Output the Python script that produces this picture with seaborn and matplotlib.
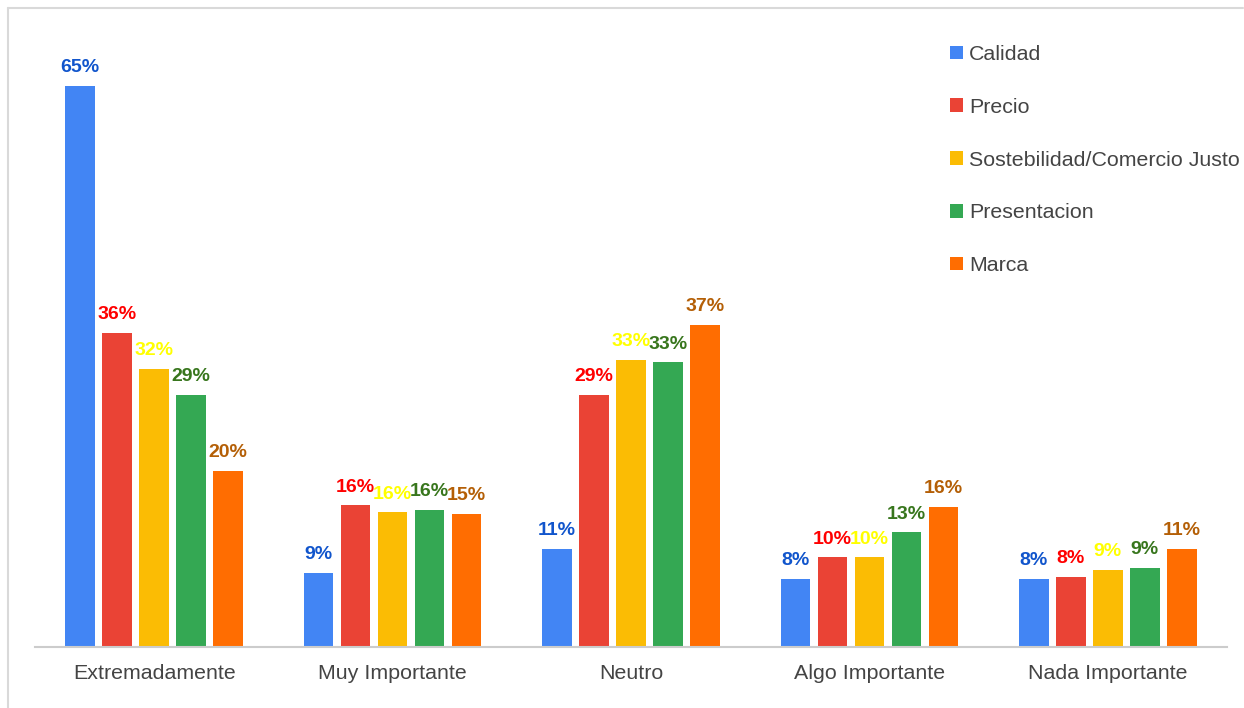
import matplotlib
matplotlib.use("Agg")
import matplotlib.pyplot as plt
from matplotlib.lines import Line2D
import pandas as pd
import seaborn as sns

# Importance levels (x axis) and the share of answers per factor, in percent
categories = ["Extremadamente", "Muy Importante", "Neutro", "Algo Importante", "Nada Importante"]
series_names = ["Calidad", "Precio", "Sostebilidad/Comercio Justo", "Presentacion", "Marca"]
calidad = [65.0, 8.6, 11.4, 7.9, 7.9]
precio = [36.4, 16.4, 29.2, 10.4, 8.1]
sostenibilidad = [32.2, 15.6, 33.3, 10.4, 8.9]
presentacion = [29.2, 15.9, 33.0, 13.3, 9.2]
marca = [20.4, 15.4, 37.3, 16.2, 11.4]

bar_colors = ["#4285F4", "#EA4335", "#FBBC04", "#34A853", "#FF6D01"]
label_colors = ["#1155CC", "#FF0000", "#FFFF00", "#38761D", "#B45F06"]

rows = []
for name, vals in zip(series_names, [calidad, precio, sostenibilidad, presentacion, marca]):
    for cat, v in zip(categories, vals):
        rows.append({"Nivel": cat, "Factor": name, "Porcentaje": v})
df = pd.DataFrame(rows)

sns.set_theme(style="white")
plt.rcParams["font.family"] = ["Liberation Sans", "DejaVu Sans"]

W, H = 1244, 708
fig = plt.figure(figsize=(W / 100, H / 100), dpi=100)
ax = fig.add_axes([35 / W, (H - 647) / H, (1227 - 35) / W, (647 - 30) / H])

sns.barplot(
    data=df, x="Nivel", y="Porcentaje", hue="Factor",
    order=categories, hue_order=series_names,
    palette=bar_colors, width=0.776, gap=0.2,
    linewidth=0, saturation=1, ax=ax,
)

for container, col in zip(ax.containers, label_colors):
    ax.bar_label(container, fmt="{:.0f}%", padding=7, color=col,
                 fontsize=14, fontweight="bold")

ax.set_xlim(-0.5, 4.5)
ax.set_ylim(0, 71.5)
ax.set_xlabel("")
ax.set_ylabel("")
ax.set_yticks([])
ax.tick_params(axis="x", length=0, pad=12.5, labelsize=15.4, labelcolor="#444444")
for side in ["top", "right", "left"]:
    ax.spines[side].set_visible(False)
ax.spines["bottom"].set_color("#CCCCCC")
ax.spines["bottom"].set_linewidth(1.5)

handles, labels = ax.get_legend_handles_labels()
ax.legend(
    handles, labels, loc="upper left",
    bbox_to_anchor=(950 / W, 1 - 45 / H), bbox_transform=fig.transFigure,
    frameon=False, fontsize=15.4, labelcolor="#444444",
    handlelength=0.6, handleheight=0.6, handletextpad=0.3,
    labelspacing=1.58, borderpad=0, borderaxespad=0,
)

# Thin frame along the top and left edges
fig.add_artist(Line2D([8 / W, 1243 / W], [1 - 8 / H, 1 - 8 / H], color="#D9D9D9", lw=1.5,
                      transform=fig.transFigure))
fig.add_artist(Line2D([8 / W, 8 / W], [0, 1 - 8 / H], color="#D9D9D9", lw=1.5,
                      transform=fig.transFigure))

fig.savefig("out.png", dpi=100, facecolor="white")
